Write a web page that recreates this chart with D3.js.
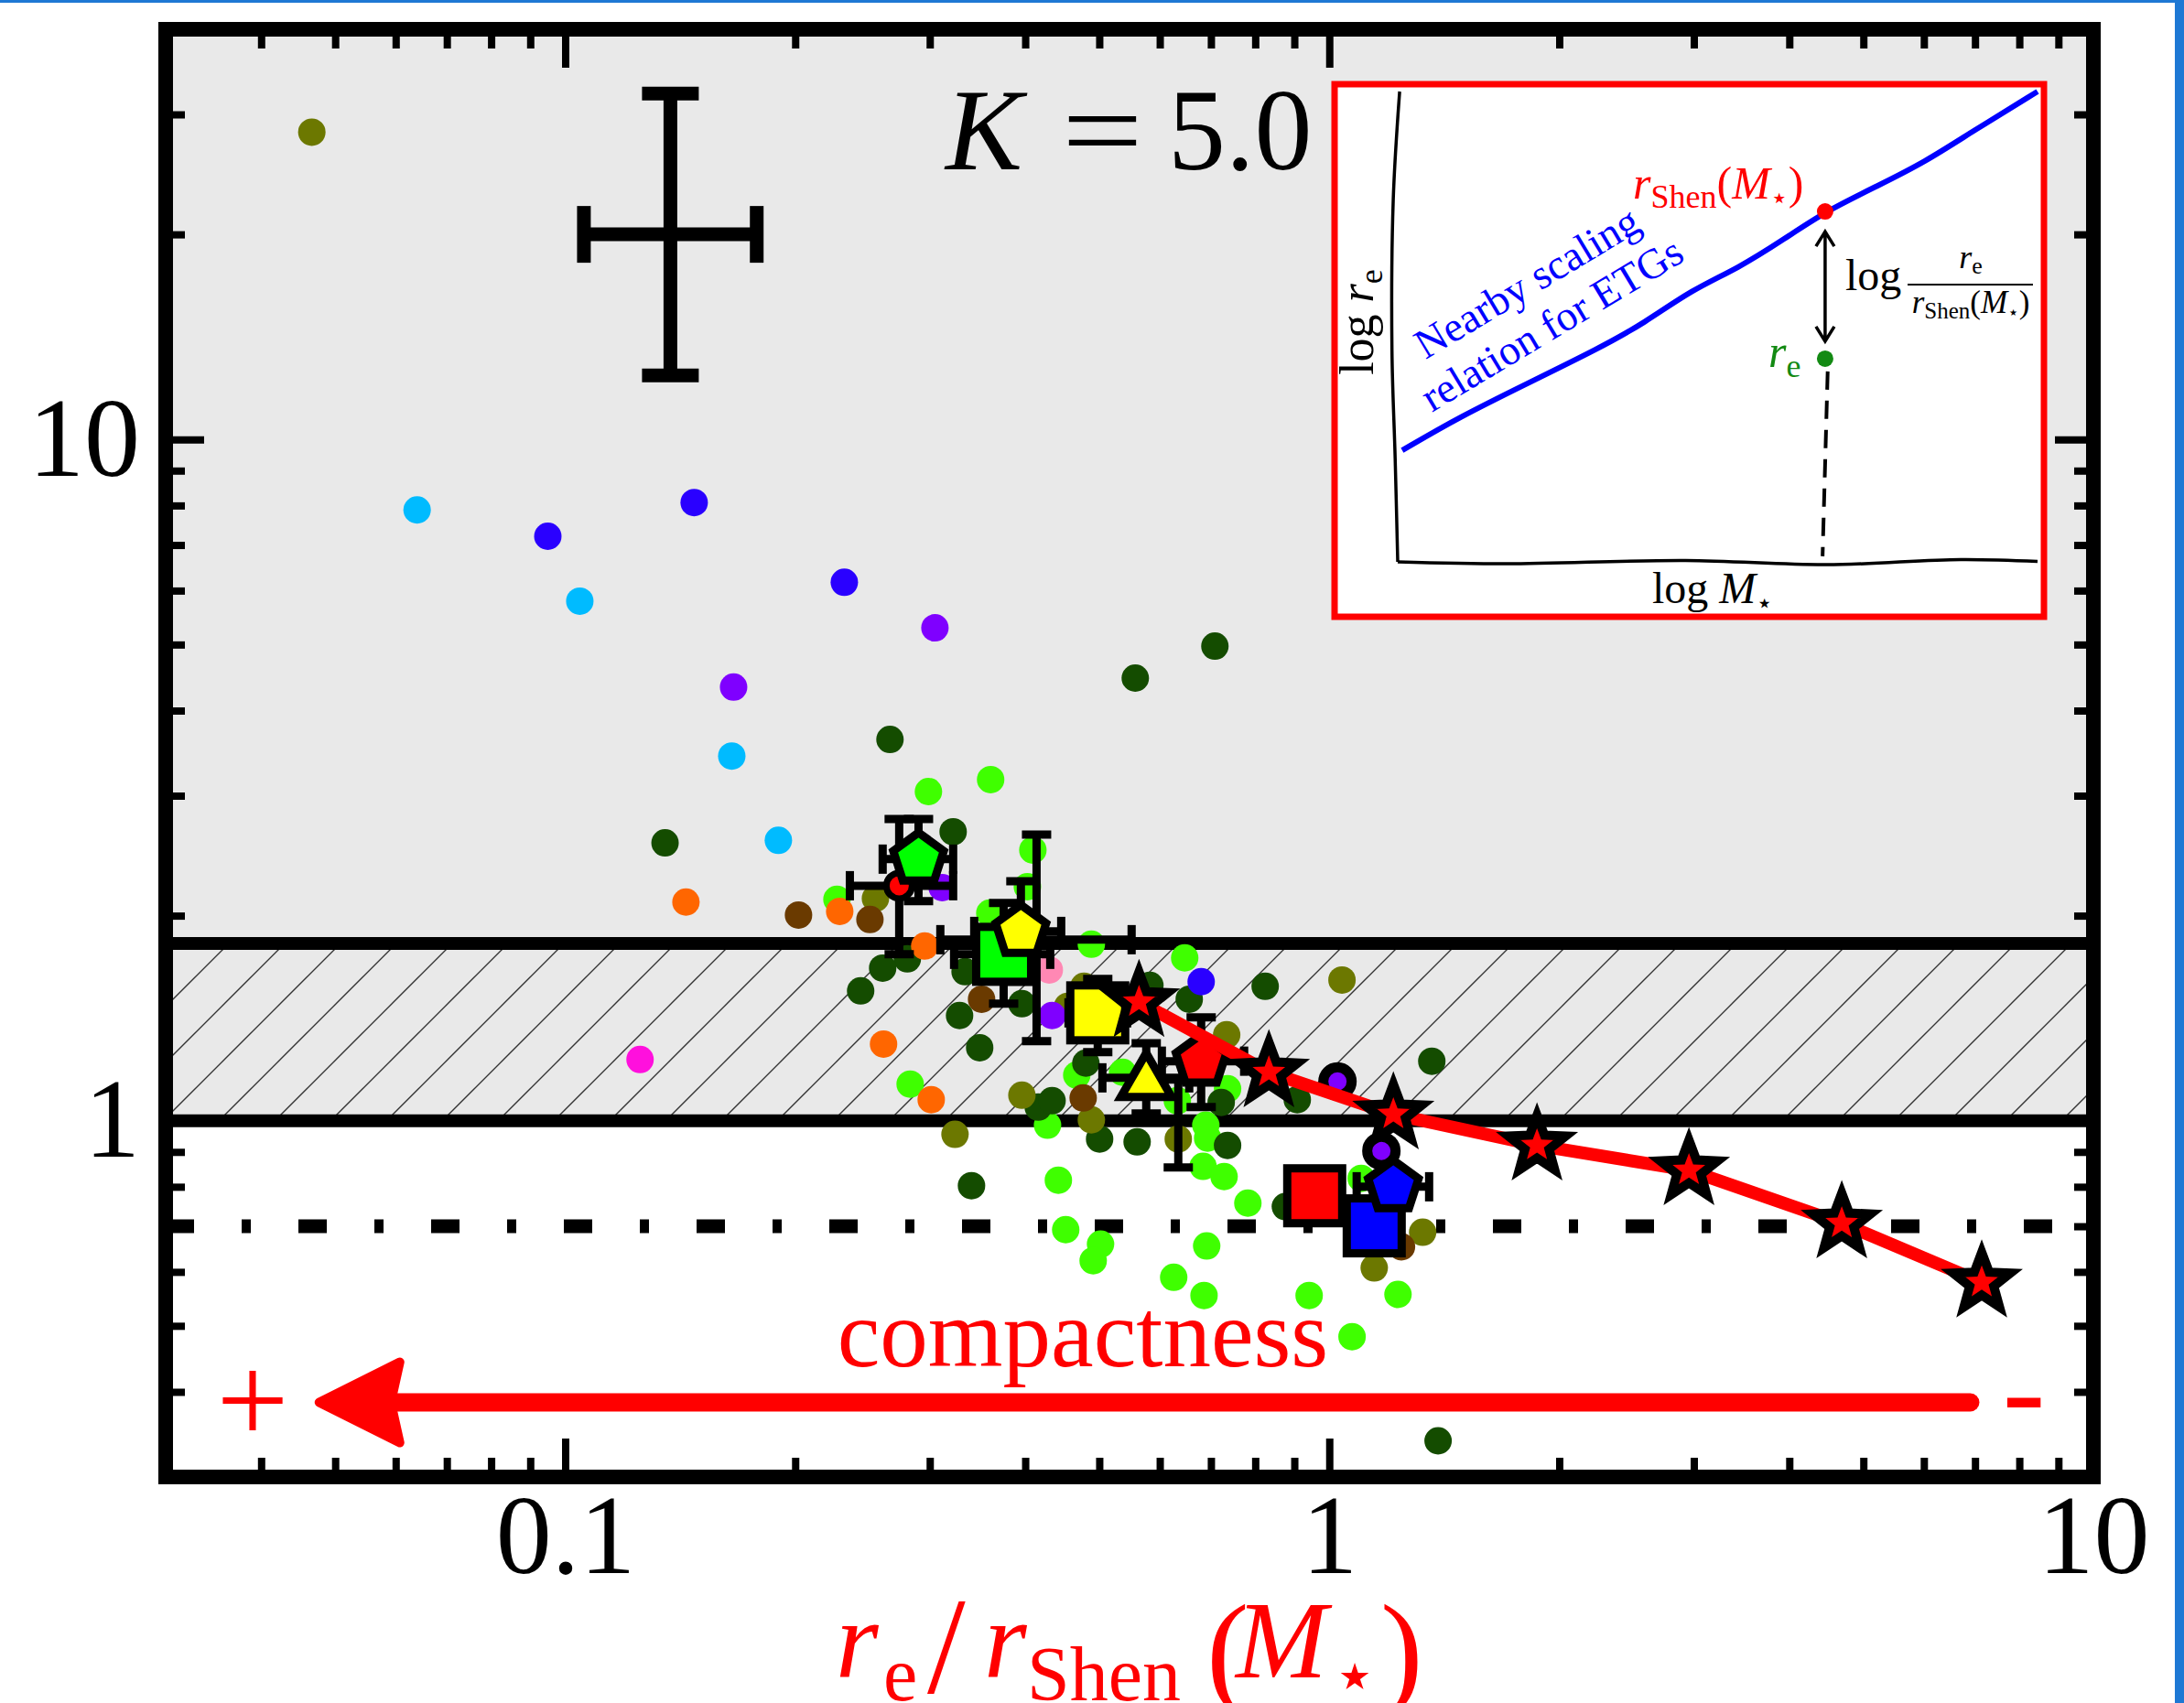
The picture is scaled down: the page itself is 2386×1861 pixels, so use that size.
<!DOCTYPE html>
<html>
<head>
<meta charset="utf-8">
<script src="https://cdn.jsdelivr.net/npm/d3@7"></script>
<style>
  body { margin: 0; background: #fff; }
  svg text { font-family: "Liberation Serif", "Times New Roman", serif; }
</style>
</head>
<body>
<div id="chart"></div>
<script>
// ---- data ----
const lightGreen = [[0.2988,3.042],[0.3604,3.168],[0.4093,2.496],[0.4026,2.206],[0.3595,2.017],[0.2268,2.113],[0.4882,1.816],[0.6468,1.734],[0.2828,1.132],[0.4278,0.985],[0.4672,1.167],[0.5364,1.178],[0.6326,1.070],[0.7360,1.114],[0.6893,0.985],[0.6836,0.857],[0.7283,0.828],[0.7824,0.757],[0.4420,0.818],[0.4519,0.692],[0.5019,0.659],[0.4909,0.623],[0.6911,0.655],[0.6257,0.589],[0.6856,0.554],[0.9411,0.554],[1.230,0.556],[1.071,0.482],[1.101,0.823],[0.6931,0.943]]
const darkGreen = [[0.1351,2.558],[0.2661,3.628],[0.5573,4.464],[0.7084,4.973],[0.3219,2.656],[0.2804,1.728],[0.2603,1.675],[0.2436,1.551],[0.3337,1.655],[0.3960,1.485],[0.3282,1.427],[0.3487,1.280],[0.4160,1.047],[0.4337,1.070],[0.4802,1.215],[0.5005,0.940],[0.5604,0.931],[0.5824,1.580],[0.6557,1.508],[0.8243,1.575],[0.7220,1.064],[0.9080,1.074],[0.7360,0.920],[0.3402,0.803],[0.8760,0.748],[1.362,1.223],[1.388,0.339]]
const olive = [[0.0466,28.25],[0.2547,2.120],[0.4545,1.472],[0.4775,1.575],[0.3960,1.090],[0.4882,1.003],[0.3237,0.955],[0.6344,0.940],[0.7340,1.337],[1.039,1.609],[1.145,0.608],[1.325,0.686]]
const orange = [[0.1439,2.094],[0.2287,2.029],[0.2955,1.805],[0.2610,1.296],[0.3013,1.074]]
const brown = [[0.2020,2.004],[0.2505,1.974],[0.3507,1.508],[0.4763,1.080],[1.243,0.653]]
const lightBlue = [[0.0640,7.88],[0.1045,5.79],[0.1652,3.43],[0.1901,2.58]]
const blue = [[0.0949,7.21],[0.1475,8.08],[0.2319,6.17],[0.6797,1.600]]
const purple = [[0.1661,4.33],[0.3047,5.29],[0.3115,2.199],[0.4337,1.427]]
const pink = [[0.4301,1.665]]
const magenta = [[0.1253,1.230]]

// big markers with error bars (draw order)
const bigNames = ['purpleRing2','purpleRing1','redCircle','hiddenA','hiddenB','greenSquare','yellowSquare','redSquare','blueSquare','yellowTriangle','greenPentagon','yellowPentagon','redPentagon','bluePentagon']
const bigX = [1.170, 1.025, 0.2736, 0.4139, 0.6344, 0.3748, 0.4977, 0.957, 1.145, 0.5760, 0.2900, 0.3948, 0.6797, 1.213]
const bigY = [0.903, 1.142, 2.213, 1.844, 1.000, 1.755, 1.440, 0.776, 0.701, 1.156, 2.421, 1.896, 1.223, 0.800]
const bigXLo = [null, null, 0.2358, 0.3097, null, 0.3228, 0.4557, null, null, 0.5047, 0.2603, 0.3430, 0.6038, 1.086]
const bigXHi = [null, null, 0.3219, 0.5512, null, 0.4313, 0.5437, null, null, 0.6557, 0.3219, 0.4458, 0.7737, 1.351]
const bigYLo = [null, null, 1.755, 1.309, 0.854, 1.485, 1.261, null, null, 1.025, 2.100, 1.600, 1.047, null]
const bigYHi = [null, null, 2.773, 2.631, 1.149, 2.087, 1.615, null, null, 1.300, 2.773, 2.247, 1.418, null]

// model track (red stars)
const starX = [0.5636, 0.8336, 1.213, 1.870, 2.956, 4.685, 7.143]
const starY = [1.494, 1.178, 1.022, 0.920, 0.846, 0.707, 0.579]

// typical error bar
const refPoint = [0.1373, 20]
const refXRange = [0.1058, 0.1781]
const refYRange = [12.42, 32.2]

// reference levels
const bandLow = 1.0
const bandHigh = 1.82
const dashLevel = 0.7

// compactness arrow
const arrowTail = [6.9, 0.386]
const arrowTip = [0.047, 0.386]

// ticks
const xMajor = [0.1, 1, 10]
const xMinor = [0.04,0.05,0.06,0.07,0.08,0.09,0.2,0.3,0.4,0.5,0.6,0.7,0.8,0.9,2,3,4,5,6,7,8,9]
const yMajor = [1, 10]
const yMinor = [0.4,0.5,0.6,0.7,0.8,0.9,2,3,4,5,6,7,8,9,20,30]

// inset sketch (unit coordinates)
const insetCurve = [[0.007,0.237],[0.095,0.307],[0.205,0.381],[0.313,0.453],[0.386,0.508],[0.459,0.578],[0.532,0.624],[0.605,0.687],[0.668,0.745],[0.751,0.800],[0.824,0.850],[0.897,0.914],[1.0,1.0]]
const insetLeftAxis = [[0.003,1.0],[-0.007,0.77],[-0.009,0.45],[-0.004,0.22],[0,0]]
const insetBottomAxis = [[0,0],[0.17,-0.004],[0.45,0.003],[0.67,-0.006],[0.88,0.005],[1.0,0.001]]
const insetShenPoint = [0.668, 0.745]
const insetRePoint = [0.668, 0.432]
const insetDrop = [[0.672,0.405],[0.664,0.012]]
const insetArrow = [0.702, 0.469]

// ---- layout ----
const W = 2386, H = 1861
const plot = { left: 181, right: 2287, top: 32, bottom: 1614 }

const svg = d3.select('#chart').append('svg')
  .attr('width', W).attr('height', H).style('display', 'block')

const x = d3.scaleLog().domain([0.03, 10]).range([plot.left, plot.right])
const y = d3.scaleLog().domain([0.3, 40]).range([plot.bottom, plot.top])

// hatch pattern
const defs = svg.append('defs')
const pat = defs.append('pattern').attr('id', 'hatch')
  .attr('patternUnits', 'userSpaceOnUse').attr('width', 61).attr('height', 61)
pat.append('path').attr('d', 'M-6,6 L6,-6 M0,61 L61,0 M55,67 L67,55')
  .attr('stroke', '#333').attr('stroke-width', 1.4)

// gray region above 1
svg.append('rect')
  .attr('x', plot.left).attr('y', plot.top)
  .attr('width', plot.right - plot.left).attr('height', y(bandLow) - plot.top)
  .attr('fill', '#e9e9e9')
svg.append('rect')
  .attr('x', plot.left).attr('y', y(bandHigh))
  .attr('width', plot.right - plot.left).attr('height', y(bandLow) - y(bandHigh))
  .attr('fill', 'url(#hatch)')

// horizontal lines
;[bandLow, bandHigh].forEach(v => {
  svg.append('line').attr('x1', plot.left).attr('x2', plot.right)
    .attr('y1', y(v)).attr('y2', y(v))
    .attr('stroke', '#000').attr('stroke-width', 14)
})
svg.append('line').attr('x1', plot.left).attr('x2', plot.right)
  .attr('y1', y(dashLevel)).attr('y2', y(dashLevel))
  .attr('stroke', '#000').attr('stroke-width', 15)
  .attr('stroke-dasharray', '31,52,10,52')

// scatter dots
const dotGroups = [
  [lightGreen, '#3fff00'], [darkGreen, '#144c00'], [olive, '#6c7800'],
  [orange, '#ff6600'], [brown, '#6a3a00'], [lightBlue, '#00bbff'],
  [blue, '#2a00ff'], [purple, '#7f00ff'], [pink, '#ff88b4'], [magenta, '#ff10dd']
]
dotGroups.forEach(([data, col]) => {
  svg.append('g').selectAll('circle').data(data).enter().append('circle')
    .attr('cx', d => x(d[0])).attr('cy', d => y(d[1])).attr('r', 15)
    .attr('fill', col)
})

// error bars
function errorBar(g, cx, cy, xl, xh, yl, yh, lw, cap) {
  if (xl != null) {
    g.append('line').attr('x1', x(xl)).attr('x2', x(xh)).attr('y1', y(cy)).attr('y2', y(cy))
      .attr('stroke', '#000').attr('stroke-width', lw)
    ;[xl, xh].forEach(v => g.append('line').attr('x1', x(v)).attr('x2', x(v))
      .attr('y1', y(cy) - cap).attr('y2', y(cy) + cap).attr('stroke', '#000').attr('stroke-width', lw))
  }
  if (yl != null) {
    g.append('line').attr('x1', x(cx)).attr('x2', x(cx)).attr('y1', y(yl)).attr('y2', y(yh))
      .attr('stroke', '#000').attr('stroke-width', lw)
    ;[yl, yh].forEach(v => g.append('line').attr('y1', y(v)).attr('y2', y(v))
      .attr('x1', x(cx) - cap).attr('x2', x(cx) + cap).attr('stroke', '#000').attr('stroke-width', lw))
  }
}
const ebG = svg.append('g')
bigNames.forEach((n, i) => errorBar(ebG, bigX[i], bigY[i], bigXLo[i], bigXHi[i], bigYLo[i], bigYHi[i], 9, 16))

// marker shapes
function polyPath(n, R, inner) {
  const pts = []
  const m = inner ? n * 2 : n
  for (let k = 0; k < m; k++) {
    const a = -Math.PI / 2 + k * 2 * Math.PI / m
    const r = inner && k % 2 ? R * inner : R
    pts.push([r * Math.cos(a), r * Math.sin(a)])
  }
  return 'M' + pts.map(p => p[0].toFixed(2) + ',' + p[1].toFixed(2)).join('L') + 'Z'
}
const bigStyle = {
  purpleRing2: { shape: 'ring', fill: '#7f00ff' },
  purpleRing1: { shape: 'ring', fill: '#7f00ff' },
  redCircle: { shape: 'circle', fill: '#ff0000' },
  hiddenA: null, hiddenB: null,
  greenSquare: { shape: 'square', fill: '#00ff00' },
  yellowSquare: { shape: 'square', fill: '#ffff00' },
  redSquare: { shape: 'square', fill: '#ff0000' },
  blueSquare: { shape: 'square', fill: '#0000ff' },
  yellowTriangle: { shape: 'triangle', fill: '#ffff00' },
  greenPentagon: { shape: 'pentagon', fill: '#00ff00' },
  yellowPentagon: { shape: 'pentagon', fill: '#ffff00' },
  redPentagon: { shape: 'pentagon', fill: '#ff0000' },
  bluePentagon: { shape: 'pentagon', fill: '#0000ff' }
}
const mkG = svg.append('g')
bigNames.forEach((n, i) => {
  const st = bigStyle[n]
  if (!st) return
  const g = mkG.append('g').attr('transform', `translate(${x(bigX[i])},${y(bigY[i])})`)
  let el
  if (st.shape === 'ring') el = g.append('circle').attr('r', 15.5).attr('stroke-width', 11)
  else if (st.shape === 'circle') el = g.append('circle').attr('r', 14).attr('stroke-width', 7)
  else if (st.shape === 'square') el = g.append('rect').attr('x', -30).attr('y', -30).attr('width', 60).attr('height', 60).attr('stroke-width', 9)
  else if (st.shape === 'triangle') el = g.append('path').attr('d', polyPath(3, 32)).attr('transform', 'translate(0,5)').attr('stroke-width', 9)
  else el = g.append('path').attr('d', polyPath(5, 29)).attr('stroke-width', 9)
  el.attr('fill', st.fill).attr('stroke', '#000').attr('stroke-linejoin', 'miter')
})

// model track with stars
const track = starX.map((v, i) => [v, starY[i]])
svg.append('path').datum(track)
  .attr('d', d3.line().x(d => x(d[0])).y(d => y(d[1])))
  .attr('fill', 'none').attr('stroke', '#ff0000').attr('stroke-width', 14)
svg.append('g').selectAll('path').data(track).enter().append('path')
  .attr('d', polyPath(5, 33, 0.42))
  .attr('transform', d => `translate(${x(d[0])},${y(d[1])})`)
  .attr('fill', '#ff0000').attr('stroke', '#000').attr('stroke-width', 10)
  .attr('stroke-linejoin', 'miter').attr('stroke-miterlimit', 10)

// compactness arrow
const ay = y(arrowTip[1])
const tipX = x(arrowTip[0])
svg.append('line').attr('x1', tipX + 90).attr('x2', x(arrowTail[0]))
  .attr('y1', ay).attr('y2', ay)
  .attr('stroke', '#ff0000').attr('stroke-width', 20).attr('stroke-linecap', 'round')
svg.append('path')
  .attr('d', `M${tipX + 5},${ay} L${tipX + 93},${ay - 44} L${tipX + 85},${ay - 8} L${tipX + 85},${ay + 8} L${tipX + 93},${ay + 44} Z`)
  .attr('fill', '#ff0000').attr('stroke', '#ff0000').attr('stroke-width', 10).attr('stroke-linejoin', 'round')
svg.append('text').attr('x', 276).attr('y', 1577).attr('text-anchor', 'middle')
  .attr('font-size', 140).attr('fill', '#ff0000').text('+')
svg.append('text').attr('x', 2211).attr('y', 1566).attr('text-anchor', 'middle')
  .attr('font-size', 140).attr('fill', '#ff0000').text('-')
svg.append('text').attr('x', 1183).attr('y', 1493).attr('text-anchor', 'middle')
  .attr('font-size', 105).attr('fill', '#ff0000').text('compactness')

// typical error cross
const refG = svg.append('g')
refG.append('line').attr('x1', x(refXRange[0])).attr('x2', x(refXRange[1]))
  .attr('y1', y(refPoint[1])).attr('y2', y(refPoint[1])).attr('stroke', '#000').attr('stroke-width', 15)
refG.append('line').attr('y1', y(refYRange[0])).attr('y2', y(refYRange[1]))
  .attr('x1', x(refPoint[0])).attr('x2', x(refPoint[0])).attr('stroke', '#000').attr('stroke-width', 15)
refXRange.forEach(v => refG.append('line').attr('x1', x(v)).attr('x2', x(v))
  .attr('y1', y(refPoint[1]) - 31).attr('y2', y(refPoint[1]) + 31).attr('stroke', '#000').attr('stroke-width', 15))
refYRange.forEach(v => refG.append('line').attr('y1', y(v)).attr('y2', y(v))
  .attr('x1', x(refPoint[0]) - 31).attr('x2', x(refPoint[0]) + 31).attr('stroke', '#000').attr('stroke-width', 15))

// K = 5.0
svg.append('text').attr('x', 1033).attr('y', 185).attr('font-size', 126).attr('font-style', 'italic').text('K')
svg.append('text').attr('x', 1160).attr('y', 185).attr('font-size', 126).attr('transform', 'translate(1160,0) scale(1.25,1) translate(-1160,0)').text('=')
svg.append('text').attr('x', 1276).attr('y', 185).attr('font-size', 126).text('5.0')

// ---- inset ----
const ix = d3.scaleLinear().domain([0, 1]).range([1527, 2226])
const iy = d3.scaleLinear().domain([0, 1]).range([614, 100])
const inset = svg.append('g')
inset.append('rect').attr('x', 1458).attr('y', 92).attr('width', 775).attr('height', 582)
  .attr('fill', '#fff').attr('stroke', '#ff0000').attr('stroke-width', 7)
const iline = d3.line().x(d => ix(d[0])).y(d => iy(d[1])).curve(d3.curveCatmullRom)
inset.append('path').datum(insetLeftAxis).attr('d', iline).attr('fill', 'none').attr('stroke', '#000').attr('stroke-width', 3.5)
inset.append('path').datum(insetBottomAxis).attr('d', iline).attr('fill', 'none').attr('stroke', '#000').attr('stroke-width', 3.5)
inset.append('path').datum(insetCurve)
  .attr('d', d3.line().x(d => ix(d[0])).y(d => iy(d[1])).curve(d3.curveBasis))
  .attr('fill', 'none').attr('stroke', '#0000ff').attr('stroke-width', 6)
inset.append('path').datum(insetDrop).attr('d', d3.line().x(d => ix(d[0])).y(d => iy(d[1])))
  .attr('fill', 'none').attr('stroke', '#000').attr('stroke-width', 4).attr('stroke-dasharray', '20,12')
const ax0 = ix(insetShenPoint[0]), at = iy(insetArrow[0]), ab = iy(insetArrow[1])
inset.append('path')
  .attr('d', `M${ax0},${at} L${ax0},${ab} M${ax0 - 10},${at + 16} L${ax0},${at} L${ax0 + 10},${at + 16} M${ax0 - 10},${ab - 16} L${ax0},${ab} L${ax0 + 10},${ab - 16}`)
  .attr('fill', 'none').attr('stroke', '#000').attr('stroke-width', 3.5)
inset.append('circle').attr('cx', ix(insetShenPoint[0])).attr('cy', iy(insetShenPoint[1])).attr('r', 9).attr('fill', '#ff0000')
inset.append('circle').attr('cx', ix(insetRePoint[0])).attr('cy', iy(insetRePoint[1])).attr('r', 9).attr('fill', '#138a13')

function mathText(g, px, py, size, color, parts, anchor) {
  const t = g.append('text').attr('x', px).attr('y', py).attr('font-size', size)
    .attr('fill', color).attr('text-anchor', anchor || 'start')
  parts.forEach(p => {
    const s = t.append('tspan').text(p.t)
    if (p.i) s.attr('font-style', 'italic')
    if (p.s) s.attr('font-size', p.s)
    if (p.dy) s.attr('dy', p.dy)
    if (p.dx) s.attr('dx', p.dx)
    if (p.f) s.attr('font-family', p.f)
  })
  return t
}
const STAR = '\u22C6'
const DJ = 'DejaVu Sans'

// log r_e (rotated)
const lr = inset.append('g').attr('transform', 'translate(1500,352) rotate(-90)')
mathText(lr, 0, 0, 52, '#000', [{ t: 'log ' }, { t: 'r', i: 1 }, { t: 'e', s: 36, dy: 10 }], 'middle')
// log M*
mathText(inset, 1805, 659, 48, '#000', [{ t: 'log ' }, { t: 'M', i: 1 }, { t: STAR, s: 30, dy: 10, f: DJ }])
// r_Shen(M*)
mathText(inset, 1784, 217, 50, '#ff0000', [{ t: 'r', i: 1 }, { t: 'Shen', s: 36, dy: 10 }, { t: '(', dy: -10 }, { t: 'M', i: 1 }, { t: STAR, s: 32, dy: 10, f: DJ }, { t: ')', dy: -10 }])
// r_e
mathText(inset, 1932, 401, 50, '#138a13', [{ t: 'r', i: 1 }, { t: 'e', s: 36, dy: 11 }])
// log (r_e / r_Shen)
mathText(inset, 2016, 317, 48, '#000', [{ t: 'log' }])
mathText(inset, 2153, 293, 36, '#000', [{ t: 'r', i: 1 }, { t: 'e', s: 26, dy: 6 }], 'middle')
inset.append('line').attr('x1', 2084).attr('x2', 2221).attr('y1', 311).attr('y2', 311).attr('stroke', '#000').attr('stroke-width', 2)
mathText(inset, 2153, 342, 35, '#000', [{ t: 'r', i: 1 }, { t: 'Shen', s: 25, dy: 6 }, { t: '(', dy: -6 }, { t: 'M', i: 1 }, { t: STAR, s: 20, dy: 6, f: DJ }, { t: ')', dy: -6 }], 'middle')
// blue label
const bl = inset.append('g').attr('transform', 'translate(1676,322) rotate(-31)')
bl.append('text').attr('text-anchor', 'middle').attr('font-family', DJ).attr('font-size', 46).attr('fill', '#0000ff').attr('y', 0).text('Nearby scaling')
bl.append('text').attr('text-anchor', 'middle').attr('font-family', DJ).attr('font-size', 46).attr('fill', '#0000ff').attr('y', 53).text('relation for ETGs')

// ---- axes & frame ----
function styleAxis(g) {
  g.select('.domain').remove()
  g.selectAll('line').attr('stroke', '#000').attr('stroke-width', 8)
  g.attr('font-family', 'Liberation Serif').attr('font-size', 122)
}
svg.append('g').attr('transform', `translate(0,${plot.bottom})`)
  .call(d3.axisBottom(x).tickValues(xMajor).tickSize(-42).tickPadding(18).tickFormat(d => String(d))).call(styleAxis)
svg.append('g').attr('transform', `translate(0,${plot.bottom})`)
  .call(d3.axisBottom(x).tickValues(xMinor).tickSize(-21).tickFormat('')).call(styleAxis)
svg.append('g').attr('transform', `translate(0,${plot.top})`)
  .call(d3.axisTop(x).tickValues(xMajor).tickSize(-42).tickFormat('')).call(styleAxis)
svg.append('g').attr('transform', `translate(0,${plot.top})`)
  .call(d3.axisTop(x).tickValues(xMinor).tickSize(-21).tickFormat('')).call(styleAxis)
svg.append('g').attr('transform', `translate(${plot.left},0)`)
  .call(d3.axisLeft(y).tickValues(yMajor).tickSize(-42).tickPadding(28).tickFormat(d => String(d))).call(styleAxis)
svg.append('g').attr('transform', `translate(${plot.left},0)`)
  .call(d3.axisLeft(y).tickValues(yMinor).tickSize(-21).tickFormat('')).call(styleAxis)
svg.append('g').attr('transform', `translate(${plot.right},0)`)
  .call(d3.axisRight(y).tickValues(yMajor).tickSize(-42).tickFormat('')).call(styleAxis)
svg.append('g').attr('transform', `translate(${plot.right},0)`)
  .call(d3.axisRight(y).tickValues(yMinor).tickSize(-21).tickFormat('')).call(styleAxis)

svg.append('rect').attr('x', plot.left).attr('y', plot.top)
  .attr('width', plot.right - plot.left).attr('height', plot.bottom - plot.top)
  .attr('fill', 'none').attr('stroke', '#000').attr('stroke-width', 16)

// x axis label
const xl = svg.append('g').attr('fill', '#ff0000')
const piece = (t, px, py, size, it, fam) => xl.append('text').attr('x', px).attr('y', py)
  .attr('font-size', size).attr('font-style', it ? 'italic' : null).attr('font-family', fam || null).text(t)
piece('r', 913, 1833, 120, true)
piece('e', 965, 1858, 84)
piece('/', 1013, 1850, 150)
piece('r', 1075, 1833, 120, true)
piece('Shen', 1122, 1858, 84)
piece('(', 1318, 1850, 140)
piece('M', 1350, 1833, 120, true)
piece(STAR, 1455, 1858, 80, false, DJ)
piece(')', 1508, 1850, 140)

// window border of the screenshot
svg.append('rect').attr('x', 0).attr('y', 0).attr('width', W).attr('height', 3).attr('fill', '#1e78d4')
svg.append('rect').attr('x', 2376).attr('y', 0).attr('width', 10).attr('height', H).attr('fill', '#1e78d4')
</script>
</body>
</html>
